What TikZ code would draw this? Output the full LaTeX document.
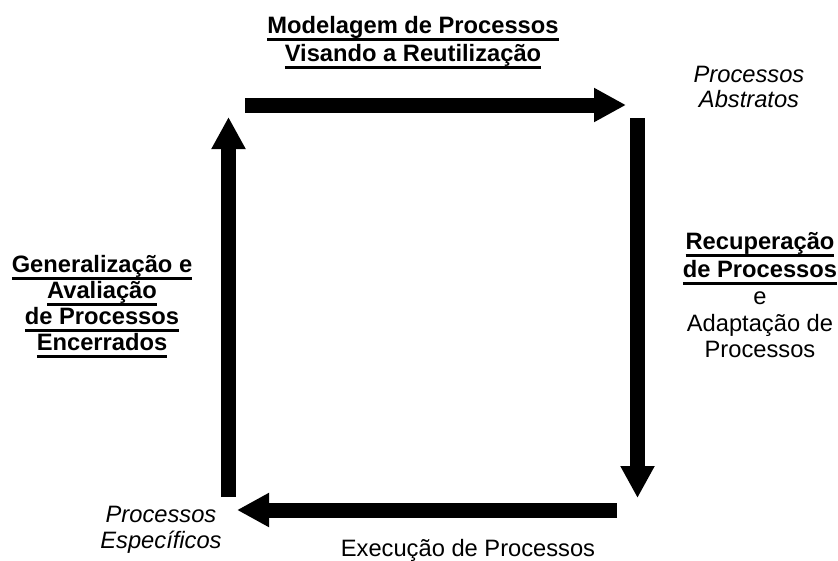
\documentclass[tikz,border=0pt]{standalone}
\usepackage{fontspec}
\setmainfont{Liberation Sans}
\usetikzlibrary{arrows.meta}
\newcommand\ulline[1]{\setbox0\hbox{#1}\rlap{\rule[-7.5pt]{\wd0}{2.4pt}}\box0}
\begin{document}
\begin{tikzpicture}[x=1pt,y=-1pt,
  lbl/.style={anchor=base,inner sep=0pt,font=\fontsize{23.7}{27}\selectfont},
  bl/.style={lbl,font=\fontsize{23.7}{27}\selectfont\bfseries},
  it/.style={lbl,font=\fontsize{23.7}{27}\selectfont\itshape},
  flow/.style={line width=15pt,-{Triangle[length=32pt,width=32pt]}}]
\useasboundingbox (0,0) rectangle (838,560);
% arrow end points
\coordinate (A) at (245,105);
\coordinate (B) at (626,105);
\coordinate (C) at (637.5,118);
\coordinate (D) at (637.5,498);
\coordinate (E) at (617,510);
\coordinate (F) at (237,510);
\coordinate (G) at (228.5,497);
\coordinate (H) at (228.5,117);
\draw[flow] (A) -- (B);
\draw[flow] (C) -- (D);
\draw[flow] (E) -- (F);
\draw[flow] (G) -- (H);
% top label
\node[bl] (t1) at (413,33) {\ulline{Modelagem de Processos}};
\node[bl] (t2) at (413,61) {\ulline{Visando a Reutilização}};
% top right
\node[it] (a1) at (749,82) {Processos};
\node[it] (a2) at (749,107) {Abstratos};
% right label
\node[bl] (r1) at (760,249) {\ulline{Recuperação}};
\node[bl] (r2) at (760,277) {\ulline{de Processos}};
\node[lbl] (r3) at (760,304) {e};
\node[lbl] (r4) at (760,331) {Adaptação de};
\node[lbl] (r5) at (760,357) {Processos};
% left label
\node[bl] (l1) at (102,272) {\ulline{Generalização e}};
\node[bl] (l2) at (102,298) {\ulline{Avaliação}};
\node[bl] (l3) at (102,324) {\ulline{de Processos}};
\node[bl] (l4) at (102,350) {\ulline{Encerrados}};
% bottom left
\node[it] (b1) at (161,522) {Processos};
\node[it] (b2) at (161,548) {Específicos};
% bottom
\node[lbl] (x1) at (468,556) {Execução de Processos};
\end{tikzpicture}
\end{document}
